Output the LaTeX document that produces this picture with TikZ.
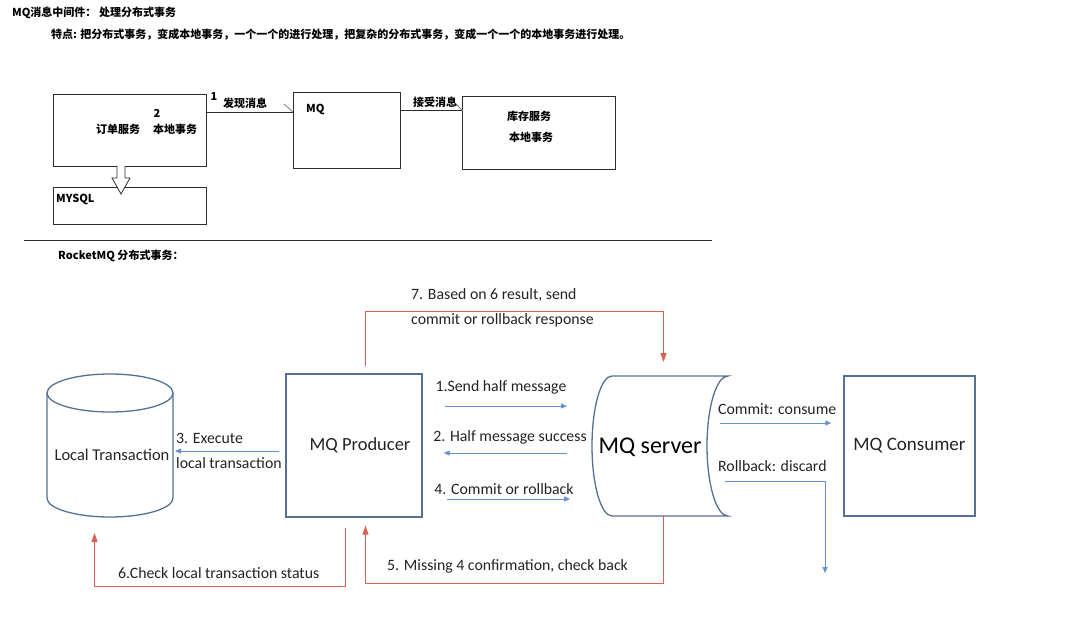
\documentclass[tikz,border=0pt]{standalone}
\usepackage{fontspec}
\setmainfont{Carlito}
\newfontfamily\cjk{Noto Sans CJK SC}
\usetikzlibrary{arrows.meta}

\definecolor{topline}{RGB}{45,45,45}
\definecolor{boxblue}{RGB}{84,112,146}
\definecolor{arrblue}{RGB}{104,146,204}
\definecolor{redline}{RGB}{222,96,84}
\definecolor{txtgray}{RGB}{35,35,35}

\begin{document}
\begin{tikzpicture}[x=1pt, y=-1pt,
    cn/.style={font=\cjk\bfseries\fontsize{11}{13}\selectfont, inner sep=0},
    tline/.style={draw=topline, line width=0.8pt},
    tbox/.style={draw=topline, line width=0.8pt, inner sep=0},
    bbox/.style={draw=boxblue, line width=1.3pt},
    lbl/.style={text=txtgray, font=\fontsize{15.8}{18}\selectfont, inner sep=0},
    barrow/.style={draw=arrblue, line width=0.9pt, -{Triangle[width=5pt,length=6pt]}},
    rarrow/.style={draw=redline, line width=1pt, -{Triangle[width=6pt,length=9pt]}}]

        \useasboundingbox (0,0) rectangle (1084,631);

        % upper part
        \node[cn, anchor=west] (title) at (12,13) {MQ消息中间件： 处理分布式事务};
        \node[cn, anchor=west] (feature) at (51,35) {特点: 把分布式事务，变成本地事务，一个一个的进行处理，把复杂的分布式事务，变成一个一个的本地事务进行处理。};

        \node[tbox, minimum width=153pt, minimum height=72pt] (order) at (129.5,130) {};
        \node[cn] (step2) at (157,113) {2};
        \node[cn] (orderlbl) at (118,129) {订单服务};
        \node[cn] (orderloc) at (175,129) {本地事务};

        \node[tbox, minimum width=153pt, minimum height=37pt] (mysql) at (129.5,205.5) {};
        \node[cn, anchor=west] (mysqllbl) at (56,199) {MYSQL};
        \draw[tline, fill=white] (117,166) -- (117,178) -- (112,178) -- (121,194) -- (130,178) -- (125,178) -- (125,166);

        \node[tbox, minimum width=107pt, minimum height=76pt] (mq) at (346.5,130) {};
        \node[cn, anchor=west] (mqlbl) at (306,109) {MQ};

        \node[tbox, minimum width=153pt, minimum height=73pt] (store) at (538.5,132.5) {};
        \node[cn] (storelbl) at (529,116) {库存服务};
        \node[cn] (storeloc) at (531,137) {本地事务};

        \draw[tline] ([yshift=18pt]order.east) -- ([yshift=18pt]mq.west);
        \draw[tline, draw=gray] (284,104) -- (293,112);
        \draw[tline] ([yshift=20pt]mq.east) -- ([yshift=22.5pt]store.west);
        \draw[tline, draw=gray] (455,103) -- (463,111);

        \node[cn] (send1) at (214,97) {1};
        \node[cn] (sendlbl) at (245,103) {发现消息};
        \node[cn] (recvlbl) at (435,102) {接受消息};

        \draw[tline] (24,240) -- (712,240);
        \node[cn, anchor=west] (rocket) at (58,256) {RocketMQ 分布式事务：};

        % lower part
        \draw[bbox] (110,393) ellipse [x radius=63pt, y radius=19pt];
        \draw[bbox] (47,393) -- (47,498) arc [start angle=180, end angle=360, x radius=63pt, y radius=19pt] -- (173,393);
        \coordinate (cylE) at (175,451);
        \coordinate (cylS) at (110,517);
        \node[lbl, font=\fontsize{16.5}{19}\selectfont] (localtx) at (112,455) {Local Transaction};

        \node[bbox, minimum width=136pt, minimum height=143pt] (prod) at (354,445.5) {};
        \node[lbl, font=\fontsize{18.5}{22}\selectfont] (prodlbl) at (360,445) {MQ Producer};

        \draw[bbox] (612,376) -- (728,376) arc [start angle=90, end angle=270, x radius=21pt, y radius=70pt] -- (612,516) arc [start angle=270, end angle=90, x radius=20pt, y radius=70pt] -- cycle;
        \coordinate (srvN) at (663.5,376);
        \coordinate (srvS) at (663.5,516);
        \coordinate (srvW) at (592,446);
        \coordinate (srvE) at (707,446);
        \node[lbl, text=black, font=\fontsize{24}{28}\selectfont] (srvlbl) at (650,447) {MQ server};

        \node[bbox, minimum width=131pt, minimum height=140pt, text=txtgray, font=\fontsize{19}{22}\selectfont] (cons) at (909.5,446) {MQ Consumer};

        \node[lbl, anchor=west] (exec1) at (176,438) {3. Execute};
        \node[lbl, anchor=west] (exec2) at (176,463) {local transaction};
        \node[lbl] (half1) at (501,387) {1.Send half message};
        \node[lbl] (half2) at (510,437) {2. Half message success};
        \node[lbl] (commit4) at (504,489) {4. Commit or rollback};
        \node[lbl, anchor=west] (based7) at (411,295) {7. Based on 6 result, send};
        \node[lbl, anchor=west] (based7b) at (411,320) {commit or rollback response};
        \node[lbl, anchor=west] (check5) at (387,566) {5. Missing 4 confirmation, check back};
        \node[lbl, anchor=west] (check6) at (118,573) {6.Check local transaction status};
        \node[lbl, anchor=west] (commitc) at (718,409) {Commit: consume};
        \node[lbl, anchor=west] (rollbk) at (718,466) {Rollback: discard};

        \draw[barrow] ([shift={(-6,5.5)}]prod.west) -- (cylE);
        \draw[barrow] ([shift={(22,-39.5)}]prod.east) -- ([shift={(-25,-40)}]srvW);
        \draw[barrow] ([shift={(-25,7)}]srvW) -- ([shift={(21,7.5)}]prod.east);
        \draw[barrow] ([shift={(24,53.5)}]prod.east) -- ([shift={(-22,53)}]srvW);
        \draw[barrow] ([shift={(13,-23)}]srvE) -- ([shift={(-12,-23)}]cons.west);
        \draw[barrow] ([shift={(18,35)}]srvE) -- ++(100,0) -- ++(0,92);

        \draw[rarrow] ([shift={(11.5,-7)}]prod.north) -- ++(0,-54.5) -| ([yshift=14pt]srvN);
        \draw[rarrow] (srvS) -- ++(0,67.5) -| ([shift={(11.5,8)}]prod.south);
        \draw[rarrow] ([shift={(-8.5,10)}]prod.south) -- ++(0,58.5) -| ([shift={(-15.5,16)}]cylS);

\end{tikzpicture}
\end{document}
